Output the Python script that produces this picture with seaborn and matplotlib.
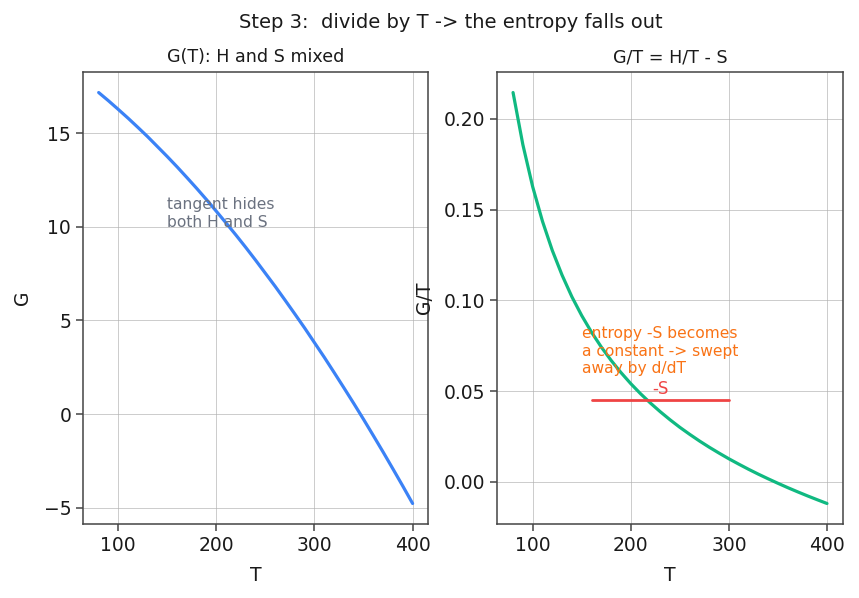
import numpy as np
import pandas as pd
import seaborn as sns
import matplotlib
matplotlib.use("Agg")
import matplotlib.pyplot as plt

# Temperature samples and Gibbs energy
T = [80, 90, 100, 110, 120, 130, 140, 150, 160, 170, 180, 190, 200, 210, 220,
     230, 240, 250, 260, 270, 280, 290, 300, 310, 320, 330, 340, 350, 360,
     370, 380, 390, 400]
G = [17.16, 16.72, 16.26, 15.79, 15.30, 14.80, 14.27, 13.74, 13.19, 12.62,
     12.04, 11.44, 10.82, 10.19, 9.55, 8.89, 8.21, 7.51, 6.81, 6.08, 5.34,
     4.59, 3.81, 3.03, 2.22, 1.40, 0.57, -0.28, -1.15, -2.03, -2.93, -3.84,
     -4.77]
minus_S = 0.045
S_span = [160, 300]

df = pd.DataFrame({"T": T, "G": G})
df["G/T"] = df["G"] / df["T"]

sns.set_theme(style="ticks")
plt.rcParams["font.family"] = ["DejaVu Sans"]
plt.rcParams["text.color"] = "#1a1a1a"
plt.rcParams["axes.labelcolor"] = "#1a1a1a"
plt.rcParams["xtick.color"] = "#1a1a1a"
plt.rcParams["ytick.color"] = "#1a1a1a"

fig, (ax1, ax2) = plt.subplots(1, 2, figsize=(8.59, 5.98), dpi=100)
fig.subplots_adjust(left=0.0966, right=0.981, bottom=0.1237, top=0.8796, wspace=0.2)

blue = "#3b82f6"
green = "#10b981"
red = "#ef4444"
orange = "#f97316"
gray = "#6b7280"

sns.lineplot(data=df, x="T", y="G", ax=ax1, color=blue, lw=2.3)
sns.lineplot(data=df, x="T", y="G/T", ax=ax2, color=green, lw=2.3)

ax1.text(150, 10, "tangent hides\nboth H and S", color=gray, fontsize=11.2)
ax2.plot(S_span, [minus_S, minus_S], color=red, lw=2)
ax2.text(np.mean(S_span), minus_S + 0.0012, "-S", color=red, fontsize=12,
         ha="center", va="bottom")
ax2.text(150, 0.06, "entropy -S becomes\na constant -> swept\naway by d/dT",
         color=orange, fontsize=11.2)

for ax in (ax1, ax2):
    ax.grid(True, color="#b0b0b0", lw=0.5, alpha=0.9)
    for sp in ax.spines.values():
        sp.set_visible(True)
        sp.set_color("#444444")
        sp.set_linewidth(1.1)
    ax.tick_params(labelsize=13.5, color="#444444", length=5, width=1.1)
    ax.set_xlabel("T", fontsize=13.5, labelpad=8)

ax1.set_ylabel("G", fontsize=13.5, labelpad=8)
ax2.set_ylabel("G/T", fontsize=13.5, labelpad=7)
ax1.set_title("G(T): H and S mixed", fontsize=12.6, pad=7)
ax2.set_title("G/T = H/T - S", fontsize=12.6, pad=7)
ax1.set_xticks([100, 200, 300, 400])
ax2.set_xticks([100, 200, 300, 400])

fig.suptitle("Step 3:  divide by T -> the entropy falls out", fontsize=14,
             x=0.5245, y=0.978)

fig.savefig("out.png", dpi=100)
